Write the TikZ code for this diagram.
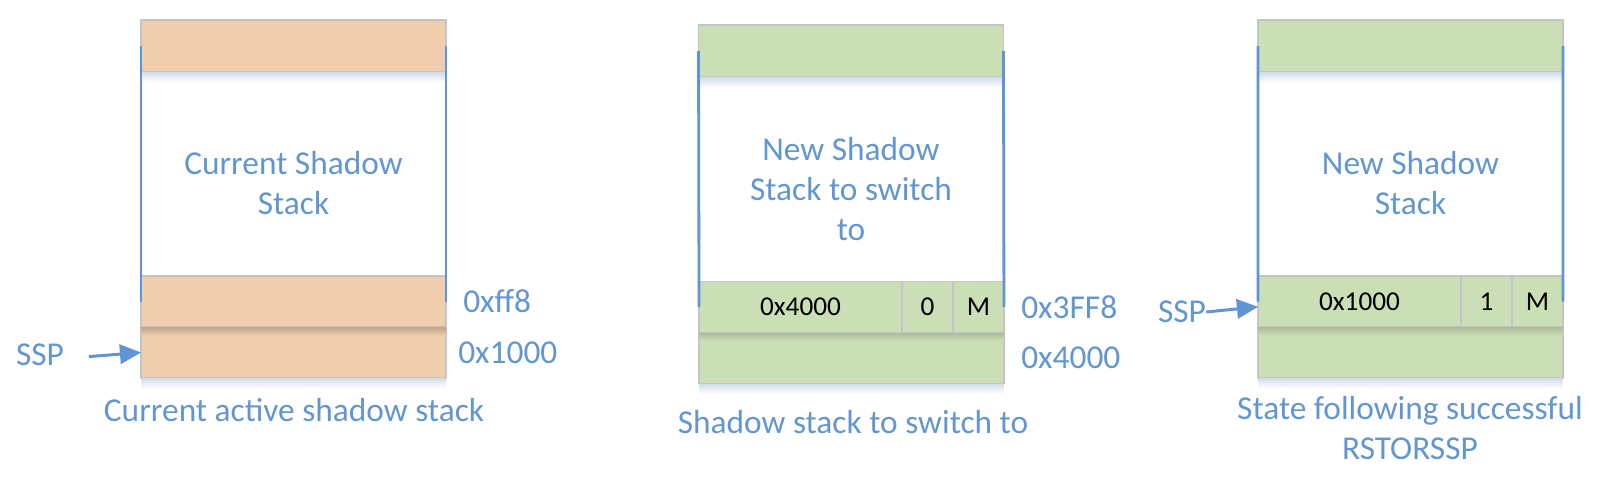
\documentclass[tikz,border=0pt]{standalone}
\usepackage{fontspec}
\setmainfont{Carlito}
\usepackage{tikz}
\usetikzlibrary{arrows.meta}
\usetikzlibrary{positioning}
\definecolor{peach}{RGB}{240,205,172}
\definecolor{sage}{RGB}{203,223,183}
\definecolor{edgegray}{RGB}{196,196,196}
\definecolor{ssblue}{RGB}{98,150,210}
\definecolor{lineblue}{RGB}{96,148,212}
\definecolor{haze}{RGB}{214,222,236}
\tikzstyle{band}=[draw=edgegray,line width=0.8pt,inner sep=0pt,outer sep=0pt,minimum width=6.1cm,minimum height=1.02cm]

\begin{document}
\begin{tikzpicture}[x=0.02cm,y=-0.02cm,every node/.style={font=\fontsize{19}{22.7}\selectfont,text=ssblue}]
\tikzstyle{cell}=[band,minimum width=1.02cm,text=black,font=\fontsize{15.5}{18}\selectfont]
\tikzstyle{wide}=[cell,minimum width=4.06cm]
\tikzstyle{sideline}=[draw=lineblue,line width=1.6pt]
\tikzstyle{ssp}=[draw=lineblue,line width=1.7pt,-{Triangle[length=12pt,width=11pt]}]
\useasboundingbox (0,0) rectangle (1600,477);

% current active shadow stack
\node [band,fill=peach,minimum height=1.04cm] (ltop) at (293.5,46) {};
\node [band,fill=peach] (lmid) at (293.5,301.5) {};
\node [band,fill=peach,below=0pt of lmid] (lbot) {};
\node [align=center] (ltext) at (293.5,183) {Current Shadow\\Stack};
\node [inner sep=0pt,right=0.34cm of lmid] (lff8) {0xff8};
\node [inner sep=0pt,right=0.24cm of lbot] (l1000) {0x1000};
\node [inner sep=0pt] (lssp) at (40,355) {SSP};
\node (lcap) at (294,410) {Current active shadow stack};

% shadow stack to switch to
\node [band,fill=sage,minimum height=1.04cm] (mtop) at (851,51) {};
\node [wide,fill=sage] (m2a) at (800.5,307) {0x4000};
\node [cell,fill=sage,right=0pt of m2a] (m2b) {0};
\node [cell,fill=sage,right=0pt of m2b] (m2c) {M};
\node [band,fill=sage,below right=0pt and 0pt of m2a.south west] (mbot) {};
\node [align=center] (mtext) at (851,189) {New Shadow\\Stack to switch\\to};
\node [inner sep=0pt,right=0.34cm of m2c] (m3ff8) {0x3FF8};
\node [inner sep=0pt,right=0.34cm of mbot] (m4000) {0x4000};
\node (mcap) at (853,422) {Shadow stack to switch to};

% after rstorssp
\node [band,fill=sage,minimum height=1.04cm] (rtop) at (1410.5,46) {};
\node [wide,fill=sage] (r2a) at (1359.5,301.5) {0x1000};
\node [cell,fill=sage,right=0pt of r2a] (r2b) {1};
\node [cell,fill=sage,right=0pt of r2b] (r2c) {M};
\node [band,fill=sage,below right=0pt and 0pt of r2a.south west] (rbot) {};
\node [align=center] (rtext) at (1410.5,183) {New Shadow\\Stack};
\node [inner sep=0pt] (rssp) at (1182,312) {SSP};
\node [align=center] (rcap) at (1410,428) {State following successful\\RSTORSSP};

\foreach \b in {ltop,mtop,rtop,lbot,mbot,rbot}
  \shade [top color=haze,bottom color=white] ([yshift=-0.4pt]\b.south west) rectangle ([yshift=-6pt]\b.south east);
\shade [top color=peach!82!black,bottom color=peach] ([yshift=-0.4pt]lmid.south west) rectangle ([yshift=-5pt]lmid.south east);
\shade [top color=sage!85!black,bottom color=sage] ([yshift=-0.4pt]m2a.south west) rectangle ([yshift=-5pt]m2c.south east);
\shade [top color=sage!85!black,bottom color=sage] ([yshift=-0.4pt]r2a.south west) rectangle ([yshift=-5pt]r2c.south east);

\draw [sideline] (ltop.west) -- (lmid.west);
\draw [sideline] (ltop.east) -- (lmid.east);
\draw [sideline] (mtop.west) -- (m2a.west);
\draw [sideline] (mtop.east) -- (m2c.east);
\draw [sideline] (rtop.west) -- (r2a.west);
\draw [sideline] (rtop.east) -- (r2c.east);

\draw [ssp,shorten <=14pt] ([yshift=-2pt]lssp.east) -- (lbot.west);
\draw [ssp] (rssp.east) -- ([yshift=-3pt]r2a.west);
\end{tikzpicture}
\end{document}
